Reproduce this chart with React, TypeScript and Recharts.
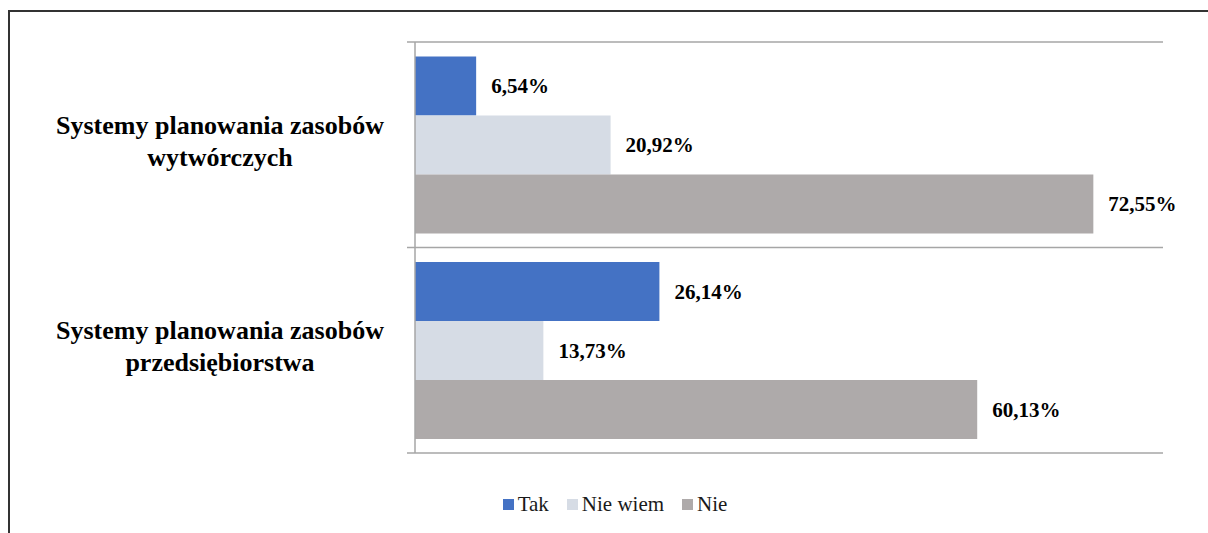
import React from 'react';
import { BarChart, Bar, XAxis, YAxis, CartesianGrid, Legend, LabelList } from 'recharts';

const categories = [
  'Systemy planowania zasobów wytwórczych',
  'Systemy planowania zasobów przedsiębiorstwa',
];
const takValues = [6.54, 26.14];
const nieWiemValues = [20.92, 13.73];
const nieValues = [72.55, 60.13];

const seriesNames = ['Tak', 'Nie wiem', 'Nie'];
const seriesColors = ['#4472C4', '#D6DCE5', '#AEAAAA'];

const data = categories.map((name, i) => ({
  name,
  tak: takValues[i],
  nieWiem: nieWiemValues[i],
  nie: nieValues[i],
}));

const FONT = '"Liberation Serif", serif';

// category label split in two lines, last word goes to line two
const CategoryTick = ({ x, y, payload }: any) => {
  const words = String(payload.value).split(' ');
  const first = words.slice(0, -1).join(' ');
  const second = words[words.length - 1];
  const cx = x - 187;
  return (
    <text x={cx} y={y} textAnchor="middle" fontFamily={FONT} fontSize={26} fontWeight="bold" fill="#000">
      <tspan x={cx} dy={-11}>{first}</tspan>
      <tspan x={cx} dy={32}>{second}</tspan>
    </text>
  );
};

const formatPct = (v: any) => Number(v).toFixed(2).replace('.', ',') + '%';

const LegendContent = () => (
  <div style={{ display: 'flex', justifyContent: 'center', alignItems: 'center', fontFamily: FONT, fontSize: 21, color: '#1a1a1a' }}>
    {seriesNames.map((n, i) => (
      <div key={n} style={{ display: 'flex', alignItems: 'center', marginRight: i < seriesNames.length - 1 ? 18 : 0 }}>
        <span style={{ width: 11, height: 11, background: seriesColors[i], marginRight: 4, display: 'inline-block' }} />
        <span>{n}</span>
      </div>
    ))}
  </div>
);

export default function App() {
  return (
    <div
      style={{
        position: 'absolute',
        left: 8,
        top: 10,
        width: 1200,
        height: 523,
        borderLeft: '2px solid #333',
        borderTop: '2px solid #333',
        boxSizing: 'border-box',
        background: '#fff',
        fontFamily: FONT,
      }}
    >
      <BarChart
        width={1198}
        height={521}
        data={data}
        layout="vertical"
        margin={{ top: 30, right: 45, left: 0, bottom: 80 }}
        barCategoryGap="7%"
        barGap={0}
      >
        <CartesianGrid
          vertical={false}
          stroke="#a6a6a6"
          strokeWidth={1.5}
          x={397}
          width={756}
          horizontalCoordinatesGenerator={({ offset }: any) => [
            offset.top,
            offset.top + offset.height / 2,
            offset.top + offset.height,
          ]}
        />
        <XAxis type="number" domain={[0, 80]} hide />
        <YAxis
          type="category"
          dataKey="name"
          width={405}
          axisLine={{ stroke: '#a6a6a6', strokeWidth: 1.5 }}
          tickLine={false}
          tick={<CategoryTick />}
        />
        <Legend
          layout="horizontal"
          verticalAlign="middle"
          align="center"
          wrapperStyle={{ top: 480, left: 6, width: 1198 }}
          content={<LegendContent />}
        />
        <Bar dataKey="tak" name="Tak" fill={seriesColors[0]} isAnimationActive={false}>
          <LabelList dataKey="tak" position="right" offset={15} formatter={formatPct} fontFamily={FONT} fontSize={21} fontWeight="bold" fill="#000" />
        </Bar>
        <Bar dataKey="nieWiem" name="Nie wiem" fill={seriesColors[1]} isAnimationActive={false}>
          <LabelList dataKey="nieWiem" position="right" offset={15} formatter={formatPct} fontFamily={FONT} fontSize={21} fontWeight="bold" fill="#000" />
        </Bar>
        <Bar dataKey="nie" name="Nie" fill={seriesColors[2]} isAnimationActive={false}>
          <LabelList dataKey="nie" position="right" offset={15} formatter={formatPct} fontFamily={FONT} fontSize={21} fontWeight="bold" fill="#000" />
        </Bar>
      </BarChart>
    </div>
  );
}
